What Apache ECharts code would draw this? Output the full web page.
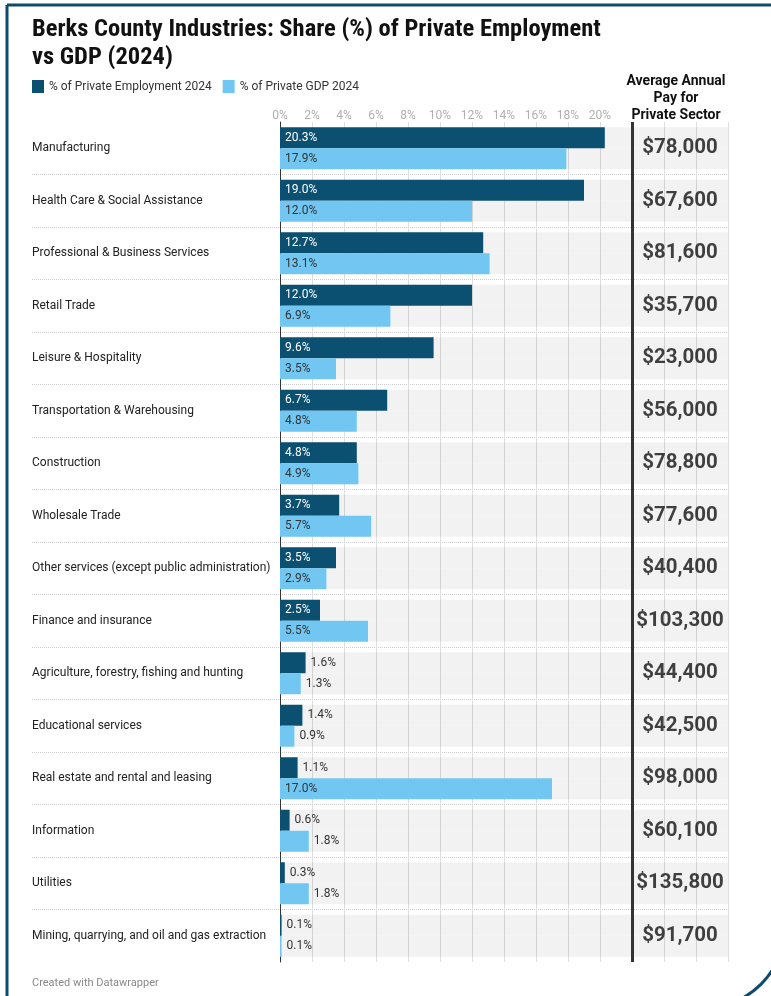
<!DOCTYPE html>
<html>
<head>
<meta charset="utf-8">
<script src="https://cdn.jsdelivr.net/npm/echarts@6/dist/echarts.min.js"></script>
<style>
html,body{margin:0;padding:0;background:#fff;}
#chart{width:771px;height:996px;}
</style>
</head>
<body>
<div id="chart"></div>
<script>
const categories = [
  'Manufacturing',
  'Health Care & Social Assistance',
  'Professional & Business Services',
  'Retail Trade',
  'Leisure & Hospitality',
  'Transportation & Warehousing',
  'Construction',
  'Wholesale Trade',
  'Other services (except public administration)',
  'Finance and insurance',
  'Agriculture, forestry, fishing and hunting',
  'Educational services',
  'Real estate and rental and leasing',
  'Information',
  'Utilities',
  'Mining, quarrying, and oil and gas extraction'
];
const employmentShare = [20.3, 19.0, 12.7, 12.0, 9.6, 6.7, 4.8, 3.7, 3.5, 2.5, 1.6, 1.4, 1.1, 0.6, 0.3, 0.1];
const gdpShare = [17.9, 12.0, 13.1, 6.9, 3.5, 4.8, 4.9, 5.7, 2.9, 5.5, 1.3, 0.9, 17.0, 1.8, 1.8, 0.1];
const avgPay = [78000, 67600, 81600, 35700, 23000, 56000, 78800, 77600, 40400, 103300, 44400, 42500, 98000, 60100, 135800, 91700];
const xTicks = [0, 2, 4, 6, 8, 10, 12, 14, 16, 18, 20];

const DARK = '#0b4f71';
const LIGHT = '#71c7f1';
const INSIDE_MIN = 2.2;
const PAY_COLUMN_X = 25;
const DIVIDER_X = 22;

function barData(values, insideColor) {
  return values.map(v => ({
    value: v,
    label: v >= INSIDE_MIN
      ? { position: 'insideLeft', distance: 5, color: insideColor }
      : { position: 'right', distance: 5, color: '#333' }
  }));
}

const chart = echarts.init(document.getElementById('chart'));
const sepLine = { show: true, interval: 0, showMinLine: false, showMaxLine: false,
  lineStyle: { type: 'dotted', color: '#cfcfcf', width: 1 } };

chart.setOption({
  animation: false,
  legend: {
    data: ['% of Private Employment 2024', '% of Private GDP 2024'],
    left: 32, top: 80, padding: 0, icon: 'rect', itemWidth: 12, itemHeight: 13, itemGap: 11,
    textStyle: { fontFamily: 'Roboto', fontSize: 12, color: '#333' },
    selectedMode: false
  },
  graphic: [
    { type: 'rect', silent: true, z: 100,
      shape: { x: 7, y: 5, width: 779, height: 1004, r: [0, 0, 85, 0] },
      style: { fill: 'none', stroke: '#0f4b6f', lineWidth: 3 } },
    { type: 'text', silent: true,
      style: { text: 'Berks County Industries: Share (%) of Private Employment\nvs GDP (2024)',
        x: 32, y: 16, textAlign: 'left', textVerticalAlign: 'top',
        font: 'bold condensed 24.5px Roboto', lineHeight: 28, fill: '#111' } },
    { type: 'text', silent: true,
      style: { text: 'Average Annual\nPay for\nPrivate Sector', x: 676, y: 73, textAlign: 'center', textVerticalAlign: 'top',
        font: 'bold 14px Roboto', lineHeight: 17, fill: '#111' } },
    { type: 'text', silent: true,
      style: { text: 'Created with Datawrapper', x: 32, y: 978, font: '11px Roboto', fill: '#888' } }
  ],
  grid: [
    { left: 280, top: 122, width: 448, height: 840 },
    { left: 32, top: 122, width: 248, height: 840 }
  ],
  xAxis: [
    { type: 'value', gridIndex: 0, position: 'top', min: 0, max: 28, interval: 2,
      axisLine: { show: false }, axisTick: { show: false },
      axisLabel: { margin: 0, color: '#b0b0b0', fontFamily: 'Roboto', fontSize: 12,
        formatter: v => xTicks.indexOf(v) >= 0 ? v + '%' : '' },
      splitLine: { show: true, lineStyle: { color: '#dedede', width: 1 } } },
    { type: 'value', gridIndex: 1, min: 0, max: 1, show: false }
  ],
  yAxis: [
    { type: 'category', gridIndex: 0, data: categories, inverse: true,
      axisLine: { show: true, lineStyle: { color: '#333', width: 1 } },
      axisTick: { show: false },
      axisLabel: { show: false },
      splitLine: sepLine },
    { type: 'category', gridIndex: 1, data: categories, inverse: true,
      axisLine: { show: false }, axisTick: { show: false },
      axisLabel: { show: true, inside: true, align: 'left', margin: 0, interval: 0,
        fontFamily: 'Roboto', fontSize: 12, color: '#222' },
      splitLine: sepLine }
  ],
  series: [
    { name: '% of Private Employment 2024', type: 'bar', xAxisIndex: 0, yAxisIndex: 0,
      data: barData(employmentShare, '#fff'),
      itemStyle: { color: DARK },
      barGap: '0%', barCategoryGap: '20%',
      showBackground: true, backgroundStyle: { color: 'rgba(0,0,0,0.05)' },
      label: { show: true, fontFamily: 'Roboto', fontSize: 12, formatter: p => p.value.toFixed(1) + '%' },
      markLine: { silent: true, symbol: 'none', label: { show: false },
        lineStyle: { color: '#333', width: 3, type: 'solid' },
        data: [{ xAxis: DIVIDER_X }] } },
    { name: '% of Private GDP 2024', type: 'bar', xAxisIndex: 0, yAxisIndex: 0,
      data: barData(gdpShare, '#333'),
      itemStyle: { color: LIGHT },
      barGap: '0%', barCategoryGap: '20%',
      showBackground: true, backgroundStyle: { color: 'rgba(0,0,0,0.05)' },
      label: { show: true, fontFamily: 'Roboto', fontSize: 12, formatter: p => p.value.toFixed(1) + '%' } },
    { name: 'pay', type: 'scatter', xAxisIndex: 0, yAxisIndex: 0, silent: true,
      data: avgPay.map((p, i) => [PAY_COLUMN_X, i, p]),
      symbolSize: 1, itemStyle: { color: 'rgba(0,0,0,0)' },
      label: { show: true, position: 'inside', fontFamily: 'Roboto', fontWeight: 'bold', fontSize: 20.5, color: '#111',
        formatter: p => '$' + p.value[2].toLocaleString('en-US') } }
  ]
});
</script>
</body>
</html>
